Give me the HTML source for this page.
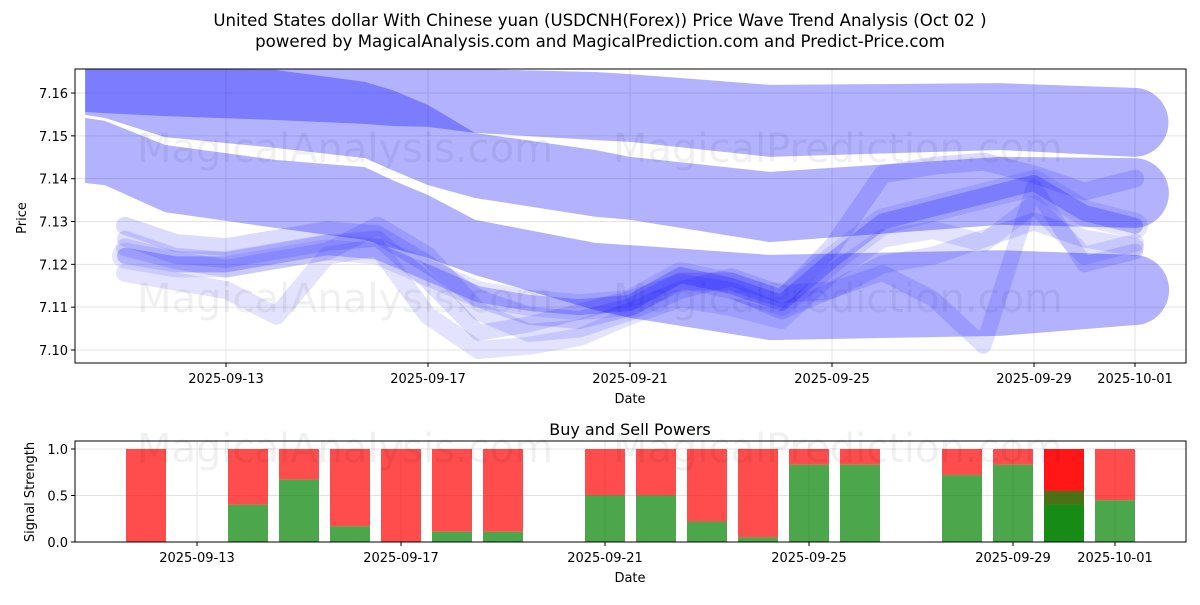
<!DOCTYPE html>
<html><head><meta charset="utf-8"><style>
body{margin:0;background:#fff;}
svg text{font-family:"DejaVu Sans","Liberation Sans",sans-serif;}
</style></head><body>
<svg id="c" width="1200" height="600" xmlns="http://www.w3.org/2000/svg">
<text x="600" y="26" text-anchor="middle" font-size="16.6">United States dollar With Chinese yuan (USDCNH(Forex)) Price Wave Trend Analysis (Oct 02 )</text>
<text x="600" y="47" text-anchor="middle" font-size="16.6">powered by MagicalAnalysis.com and MagicalPrediction.com and Predict-Price.com</text>
<g id="topg"></g>
<g id="botg"></g>
</svg>
<script>
// ---- top chart data ----
const tickDates = ["2025-09-13","2025-09-17","2025-09-21","2025-09-25","2025-09-29","2025-10-01"];
const tickDays = [0,4,8,12,16,18];
const priceTicks = [7.10,7.11,7.12,7.13,7.14,7.15,7.16];
const bandDays = [-2.79,-2.40,-1.21,0.97,2.75,3.29,4.0,4.93,7.31,8,10.77,15.33,17.98];
const band1Upper = [7.1656,7.1656,7.1656,7.1656,7.1656,7.1656,7.1656,7.1656,7.1649,7.1644,7.1619,7.1623,7.1612];
const band1Lower = [7.1556,7.1553,7.1546,7.1537,7.1528,7.1523,7.1521,7.1507,7.1490,7.1486,7.1451,7.1467,7.1451];
const band2Upper = [7.1656,7.1656,7.1656,7.1654,7.1626,7.1607,7.1572,7.1507,7.1467,7.1451,7.1416,7.1451,7.1448];
const band2Lower = [7.1549,7.1542,7.1497,7.1472,7.1448,7.1420,7.1385,7.1355,7.1311,7.1304,7.1252,7.1292,7.1285];
const band3Upper = [7.1542,7.1535,7.1479,7.1444,7.1427,7.1397,7.1362,7.1304,7.1250,7.1245,7.1222,7.1233,7.1222];
const band3Lower = [7.1390,7.1385,7.1322,7.1285,7.1257,7.1238,7.1215,7.1175,7.1093,7.1075,7.1023,7.1033,7.1058];
const lineDays = [-2,-1,0,1,2,3,4,5,6,7,8,9,10,11,12,13,14,15,16,17,18];
const lineA = [7.122,7.120,7.120,7.122,7.124,7.123,7.118,7.113,7.111,7.110,7.111,7.1175,7.115,7.111,7.121,7.130,7.133,7.136,7.139,7.132,7.129];
const lineB = [7.118,7.116,7.114,7.108,7.122,7.124,7.108,7.100,7.101,7.103,7.108,7.112,7.110,7.107,7.118,7.126,7.128,7.125,7.134,7.122,7.125];
const lineC = [7.129,7.125,7.124,7.126,7.128,7.127,7.120,7.112,7.108,7.107,7.110,7.116,7.116,7.112,7.124,7.141,7.143,7.144,7.141,7.137,7.140];
const lineD = [7.126,7.122,7.121,7.123,7.125,7.126,7.116,7.104,7.106,7.109,7.112,7.116,7.114,7.109,7.114,7.118,7.112,7.101,7.138,7.120,7.123];
const lineE = [7.124,7.121,7.119,7.121,7.123,7.129,7.122,7.109,7.104,7.105,7.109,7.114,7.117,7.113,7.114,7.120,7.122,7.126,7.130,7.126,7.124];
// ---- bottom chart data ----
const barDays = [-1,1,2,3,4,5,6,8,9,10,11,12,13,15,16,17,17,18];
const buyPower = [0,0.4,0.67,0.17,0,0.11,0.11,0.5,0.5,0.22,0.05,0.83,0.83,0.72,0.83,0.4,0.55,0.45];
const strengthTicks = [0.0,0.5,1.0];

const NS="http://www.w3.org/2000/svg";
function mk(tag,attrs,parent){const e=document.createElementNS(NS,tag);for(const k in attrs)e.setAttribute(k,attrs[k]);parent.appendChild(e);return e;}
const topG=document.getElementById('topg'), botG=document.getElementById('botg');
const svgRoot=document.getElementById('c');
const TL=75,TR=1186,TT=69,TB=363;
const xT=d=>226+d*50.5;
const yT=p=>350-(p-7.10)*4283;
const BL=75,BR=1186,BT=441,BB=542;
const xB=d=>197+d*51;
const yB=v=>542-v*93;

const defs=mk('defs',{},topG);
const cp=mk('clipPath',{id:'ct'},defs);mk('rect',{x:TL,y:TT,width:TR-TL,height:TB-TT},cp);
priceTicks.forEach(p=>{const g=mk('line',{x1:TL,x2:TR,y1:yT(p),y2:yT(p),stroke:'#e3e3e3','stroke-width':1},topG);

});
tickDays.forEach(d=>{const g=mk('line',{x1:xT(d),x2:xT(d),y1:TT,y2:TB,stroke:'#e3e3e3','stroke-width':1},topG);

});
[[345,148,'MagicalAnalysis.com'],[838,148,'MagicalPrediction.com'],[345,298,'MagicalAnalysis.com'],[838,298,'MagicalPrediction.com'],[345,448,'MagicalAnalysis.com'],[838,448,'MagicalPrediction.com']].forEach(w=>{
const t=mk('text',{x:w[0],y:w[1]+14,'text-anchor':'middle','font-size':40,fill:'#000','fill-opacity':0.06},svgRoot);t.textContent=w[2];

});
const plot=mk('g',{'clip-path':'url(#ct)'},topG);


function band(up,lo,name){
  let d='M'+bandDays.map((t,i)=>xT(t)+','+yT(up[i])).join(' L');
  for(let i=bandDays.length-1;i>=0;i--)d+=' L'+xT(bandDays[i])+','+yT(lo[i]);
  d+='Z';
  const p=mk('path',{d:d,fill:'#0000ff','fill-opacity':0.3},plot);
  
  
  const n=bandDays.length-1,cy=(yT(up[n])+yT(lo[n]))/2,r=(yT(lo[n])-yT(up[n]))/2;
  const c=mk('path',{d:`M${xT(bandDays[n])},${cy-r} A${r},${r} 0 0 1 ${xT(bandDays[n])},${cy+r}Z`,fill:'#0000ff','fill-opacity':0.3},plot);
  
  
}
band(band1Upper,band1Lower,'wave-band-1');
band(band2Upper,band2Lower,'wave-band-2');
band(band3Upper,band3Lower,'wave-band-3');
[[lineA,0.22,16],[lineB,0.11,18],[lineC,0.14,18],[lineD,0.13,16],[lineE,0.12,18],[lineA,0.10,26]].forEach((s,k)=>{
  const pts=lineDays.map((t,i)=>xT(t)+','+yT(s[0][i])).join(' ');
  const l=mk('polyline',{points:pts,fill:'none',stroke:'#0000ff','stroke-opacity':s[1],'stroke-width':s[2],'stroke-linejoin':'round','stroke-linecap':'round'},plot);
  
  
});
const fr=mk('rect',{x:TL,y:TT,width:TR-TL,height:TB-TT,fill:'none',stroke:'#000','stroke-width':1},topG);


priceTicks.forEach(p=>{mk('line',{x1:TL-4,x2:TL,y1:yT(p),y2:yT(p),stroke:'#000'},topG);
const t=mk('text',{x:TL-7,y:yT(p)+5,'text-anchor':'end','font-size':13},topG);t.textContent=p.toFixed(2);

});
tickDays.forEach((d,i)=>{mk('line',{x1:xT(d),x2:xT(d),y1:TB,y2:TB+4,stroke:'#000'},topG);
const t=mk('text',{x:xT(d),y:TB+20,'text-anchor':'middle','font-size':13},topG);t.textContent=tickDates[i];

});
let tt=mk('text',{x:630,y:403,'text-anchor':'middle','font-size':13},topG);tt.textContent='Date';


tt=mk('text',{x:0,y:0,'text-anchor':'middle','font-size':13,transform:'translate(26,218) rotate(-90)'},topG);tt.textContent='Price';



strengthTicks.forEach(v=>{const g=mk('line',{x1:BL,x2:BR,y1:yB(v),y2:yB(v),stroke:'#e3e3e3'},botG);

});
tickDays.forEach(d=>{const g=mk('line',{x1:xB(d),x2:xB(d),y1:BT,y2:BB,stroke:'#e3e3e3'},botG);

});
barDays.forEach((d,i)=>{
  const x=xB(d)-20;
  const r=mk('rect',{x:x,y:yB(1),width:40,height:yB(buyPower[i])-yB(1),fill:'#ff0000','fill-opacity':0.7},botG);
  
  
  const g=mk('rect',{x:x,y:yB(buyPower[i]),width:40,height:yB(0)-yB(buyPower[i]),fill:'#008000','fill-opacity':0.7},botG);
  
  
});
const fb=mk('rect',{x:BL,y:BT,width:BR-BL,height:BB-BT,fill:'none',stroke:'#000'},botG);


strengthTicks.forEach(v=>{mk('line',{x1:BL-4,x2:BL,y1:yB(v),y2:yB(v),stroke:'#000'},botG);
const t=mk('text',{x:BL-7,y:yB(v)+5,'text-anchor':'end','font-size':13},botG);t.textContent=v.toFixed(1);

});
tickDays.forEach((d,i)=>{mk('line',{x1:xB(d),x2:xB(d),y1:BB,y2:BB+4,stroke:'#000'},botG);
const t=mk('text',{x:xB(d),y:BB+20,'text-anchor':'middle','font-size':13},botG);t.textContent=tickDates[i];

});
tt=mk('text',{x:630,y:582,'text-anchor':'middle','font-size':13},botG);tt.textContent='Date';


tt=mk('text',{x:630,y:435,'text-anchor':'middle','font-size':16},botG);tt.textContent='Buy and Sell Powers';


tt=mk('text',{x:0,y:0,'text-anchor':'middle','font-size':13,transform:'translate(34,492) rotate(-90)'},botG);tt.textContent='Signal Strength';


</script>
</body></html>
